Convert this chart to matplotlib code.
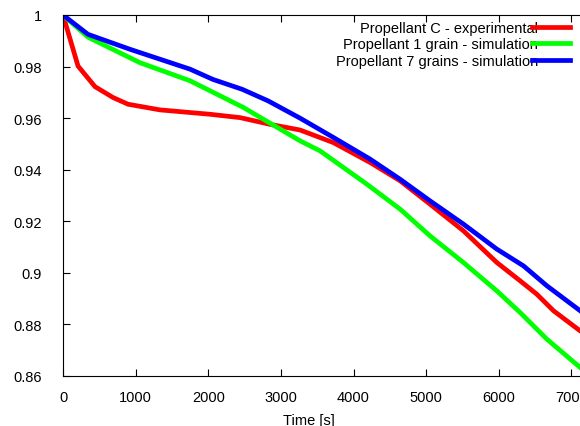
import numpy as np
import matplotlib
matplotlib.use("Agg")
import matplotlib.pyplot as plt
from matplotlib.ticker import FormatStrFormatter

plt.rcParams['font.family'] = ['Liberation Sans', 'DejaVu Sans']

t_exp = [0, 207, 441, 689, 895, 1336, 2025, 2438, 2851, 3264, 3724, 4229, 4642, 5055, 5514, 5974, 6295, 6525, 6754, 7121, 7200]
m_exp = [1.0, 0.9802, 0.9722, 0.968, 0.9654, 0.9632, 0.9615, 0.9602, 0.9576, 0.9554, 0.9505, 0.9428, 0.9357, 0.9266, 0.9163, 0.904, 0.8969, 0.8917, 0.8853, 0.8775, 0.876]

t_1g = [0, 344, 1060, 1749, 2480, 3264, 3540, 4183, 4642, 5055, 5514, 5974, 6295, 6662, 7121, 7200]
m_1g = [1.0, 0.9914, 0.9815, 0.9745, 0.9642, 0.9512, 0.9473, 0.9344, 0.9247, 0.9143, 0.904, 0.893, 0.8846, 0.8743, 0.8633, 0.8612]

t_7g = [0, 344, 923, 1749, 2066, 2466, 2824, 3264, 3724, 4229, 4642, 5055, 5514, 5974, 6341, 6662, 7121, 7200]
m_7g = [1.0, 0.9925, 0.9867, 0.979, 0.975, 0.9712, 0.9667, 0.96, 0.9525, 0.9441, 0.9363, 0.9279, 0.9189, 0.9092, 0.9027, 0.895, 0.8853, 0.8835]

fig = plt.figure(figsize=(5.8, 4.27), dpi=100)
# plot area runs past the right edge, like the cropped original
ax = fig.add_axes([63/580, 50/427, 581/580, 361/427])

ax.plot(t_exp, m_exp, color='#ff0000', lw=3.4, solid_joinstyle='round', label='Propellant C - experimental')
ax.plot(t_1g, m_1g, color='#00ff00', lw=3.4, solid_joinstyle='round', label='Propellant 1 grain - simulation')
ax.plot(t_7g, m_7g, color='#0000ff', lw=3.4, solid_joinstyle='round', label='Propellant 7 grains - simulation')

ax.set_xlim(0, 8000)
ax.set_ylim(0.86, 1.0)
ax.set_xticks(np.arange(0, 7001, 1000))
ax.set_yticks(np.arange(0.86, 1.001, 0.02))
ax.yaxis.set_major_formatter(FormatStrFormatter('%g'))
ax.tick_params(direction='in', top=True, right=True, length=5, labelsize=10.5)
ax.tick_params(axis='x', pad=10)
ax.tick_params(axis='y', pad=15)
ax.set_xlabel('Time [s]', fontsize=10.5, va='top')
ax.xaxis.set_label_coords(0.423, -0.103)

leg = ax.legend(loc='upper right', bbox_to_anchor=(570/580, 1 - 22/427), bbox_transform=fig.transFigure,
                frameon=False, markerfirst=False, handlelength=2.6, handletextpad=-0.4,
                fontsize=10.5, labelspacing=0.17, borderaxespad=0, borderpad=0)

fig.savefig('out.png', dpi=100)
